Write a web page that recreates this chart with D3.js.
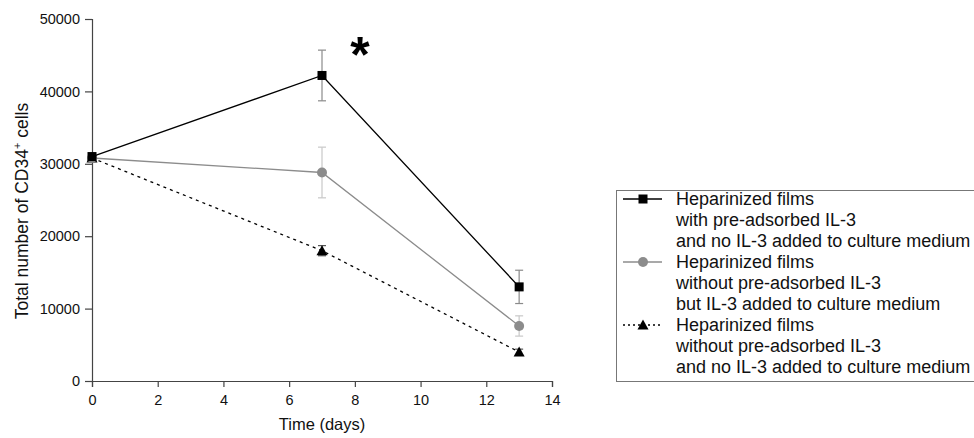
<!DOCTYPE html>
<html><head><meta charset="utf-8">
<script src="https://cdn.jsdelivr.net/npm/d3@7"></script>
<style>body{margin:0;background:#fff}svg{display:block}</style>
</head><body>
<svg id="c" width="974" height="438"></svg>
<script>
const days = [0, 7, 13];
const withIL3Film = [31000, 42200, 13000];
const withIL3FilmErr = [0, 3500, 2300];
const withIL3Medium = [30800, 28800, 7600];
const withIL3MediumErr = [0, 3500, 1400];
const noIL3 = [30800, 18000, 4000];
const noIL3Err = [0, 700, 400];
const xTicks = [0, 2, 4, 6, 8, 10, 12, 14];
const yTicks = [0, 10000, 20000, 30000, 40000, 50000];
const legendLines = [
  ["Heparinized films", "with pre-adsorbed IL-3", "and no IL-3 added to culture medium"],
  ["Heparinized films", "without pre-adsorbed IL-3", "but IL-3 added to culture medium"],
  ["Heparinized films", "without pre-adsorbed IL-3", "and no IL-3 added to culture medium"]
];

const series = [
  {vals: withIL3Film, err: withIL3FilmErr, color: "#000", errColor: "#8a8a8a", dash: null, marker: "square"},
  {vals: withIL3Medium, err: withIL3MediumErr, color: "#8c8c8c", errColor: "#c8c8c8", dash: null, marker: "circle"},
  {vals: noIL3, err: noIL3Err, color: "#000", errColor: "#555", dash: "3,4", marker: "triangle"}
];

const svg = d3.select("#c");
const font = "Arial, 'Liberation Sans', sans-serif";
const x = d3.scaleLinear().domain([0, 14]).range([92, 552]);
const y = d3.scaleLinear().domain([0, 50000]).range([381, 19]);
const axisColor = "#444";

// x axis
const gx = svg.append("g").attr("transform", `translate(0,${y(0)})`);
gx.call(d3.axisBottom(x).tickValues(d3.range(0, 15, 1)).tickSize(4).tickFormat(""))
  .call(g => g.select(".domain").remove());
gx.call(d3.axisBottom(x).tickValues(xTicks).tickSize(6).tickPadding(8).tickFormat(d3.format("d")));
gx.selectAll("line,path").attr("stroke", axisColor).attr("stroke-width", 1.2);
gx.selectAll("text").attr("font-family", font).attr("font-size", 14.5).attr("fill", "#111");

// y axis
const gy = svg.append("g").attr("transform", `translate(${x(0)},0)`);
gy.call(d3.axisLeft(y).tickValues(d3.range(0, 50001, 5000)).tickSize(4).tickFormat(""))
  .call(g => g.select(".domain").remove());
gy.call(d3.axisLeft(y).tickValues(yTicks).tickSize(7).tickPadding(5).tickFormat(d3.format("d")));
gy.selectAll("line,path").attr("stroke", axisColor).attr("stroke-width", 1.2);
gy.selectAll("text").attr("font-family", font).attr("font-size", 14.5).attr("fill", "#111");

// axis titles
svg.append("text").attr("x", 322).attr("y", 430).attr("text-anchor", "middle")
  .attr("font-family", font).attr("font-size", 16.5).attr("fill", "#111").text("Time (days)");
const yt = svg.append("text").attr("transform", "translate(28,211) rotate(-90)")
  .attr("text-anchor", "middle").attr("font-family", font).attr("font-size", 17.5).attr("fill", "#111");
yt.append("tspan").text("Total number of CD34");
yt.append("tspan").attr("dy", -7).attr("font-size", 11).text("+");
yt.append("tspan").attr("dy", 7).text(" cells");

function marker(g, type, cx, cy, color) {
  if (type === "square") {
    g.append("rect").attr("x", cx - 4.5).attr("y", cy - 4.5).attr("width", 9).attr("height", 9).attr("fill", color);
  } else if (type === "circle") {
    g.append("circle").attr("cx", cx).attr("cy", cy).attr("r", 5).attr("fill", color);
  } else {
    g.append("path").attr("d", `M${cx},${cy - 5.5}L${cx + 5.5},${cy + 4.5}L${cx - 5.5},${cy + 4.5}Z`).attr("fill", color);
  }
}

const line = d3.line().x((d, i) => x(days[i])).y(d => y(d));
[2, 1, 0].forEach(si => {
  const s = series[si];
  const g = svg.append("g");
  s.vals.forEach((v, i) => {
    if (!s.err[i]) return;
    const cx = x(days[i]), y1 = y(v + s.err[i]), y2 = y(v - s.err[i]);
    g.append("line").attr("x1", cx).attr("x2", cx).attr("y1", y1).attr("y2", y2).attr("stroke", s.errColor).attr("stroke-width", 1.2);
    [y1, y2].forEach(yy => g.append("line").attr("x1", cx - 4).attr("x2", cx + 4).attr("y1", yy).attr("y2", yy).attr("stroke", s.errColor).attr("stroke-width", 1.2));
  });
  g.append("path").datum(s.vals).attr("d", line).attr("fill", "none").attr("stroke", s.color)
    .attr("stroke-width", 1.3).attr("stroke-dasharray", s.dash);
  s.vals.forEach((v, i) => marker(g, s.marker, x(days[i]), y(v), s.color));
});

// asterisk
svg.append("text").attr("x", 360).attr("y", 72).attr("text-anchor", "middle")
  .attr("font-family", font).attr("font-weight", "bold").attr("font-size", 50).attr("fill", "#000").text("*");

// legend
const lg = svg.append("g");
lg.append("rect").attr("x", 616.5).attr("y", 190.5).attr("width", 360).attr("height", 191)
  .attr("fill", "#fff").attr("stroke", "#777").attr("stroke-width", 1);
series.forEach((s, si) => {
  const baseY = 205 + si * 63;
  lg.append("line").attr("x1", 623).attr("x2", 662).attr("y1", baseY - 6).attr("y2", baseY - 6)
    .attr("stroke", s.color).attr("stroke-width", 1.3).attr("stroke-dasharray", s.dash ? "2,3" : null);
  marker(lg, s.marker, 643, baseY - 6, s.color);
  legendLines[si].forEach((t, li) => {
    lg.append("text").attr("x", 676).attr("y", baseY + li * 21).attr("font-family", font)
      .attr("font-size", 18).attr("fill", "#111").text(t);
  });
});
</script>
</body></html>
